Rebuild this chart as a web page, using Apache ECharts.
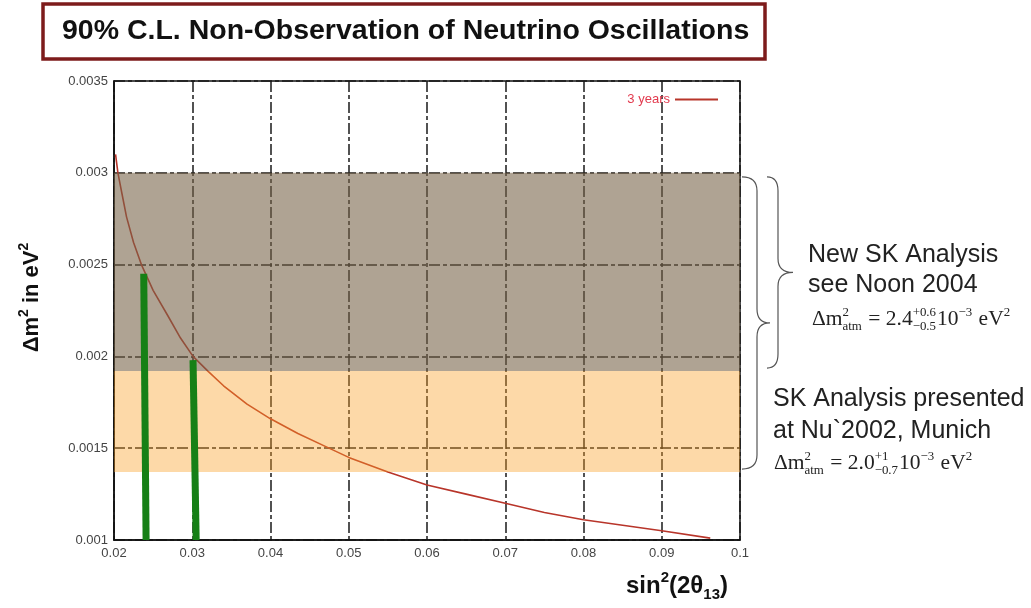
<!DOCTYPE html>
<html><head><meta charset="utf-8">
<script src="https://cdn.jsdelivr.net/npm/echarts@6/dist/echarts.min.js"></script>
<style>html,body{margin:0;padding:0;background:#fff}#c{width:1031px;height:608px}</style>
</head><body><div id="c"></div>
<script>
// ---- data ----
const titleText = '90% C.L. Non-Observation of Neutrino Oscillations';
const xAxisRange = [0.02, 0.1];
const xInterval = 0.01;
const yAxisRange = [0.001, 0.0035];
const yInterval = 0.0005;
const curveName = '3 years';
const curveX = [0.0202, 0.0205, 0.0210, 0.0216, 0.0225, 0.0235, 0.0250, 0.0269, 0.0285, 0.0301, 0.0320, 0.0340, 0.0370, 0.0400, 0.0435, 0.0470, 0.0500, 0.0550, 0.0600, 0.0650, 0.0700, 0.0750, 0.0800, 0.0850, 0.0900, 0.0962];
const curveY = [0.00310, 0.00300, 0.00289, 0.00276, 0.00262, 0.00250, 0.00236, 0.00222, 0.00210, 0.00200, 0.00192, 0.00184, 0.00174, 0.00166, 0.00158, 0.00151, 0.00145, 0.00137, 0.00130, 0.00125, 0.00120, 0.00115, 0.00111, 0.00108, 0.00105, 0.00101];
const bar1X = [0.0241, 0.0238];
const bar1Y = [0.00100, 0.00245];
const bar2X = [0.0305, 0.0301];
const bar2Y = [0.00100, 0.00198];
const bandRanges = [[0.00137, 0.00192], [0.00192, 0.00300]];   // SK 2002 (lower part), new SK
const braceRanges = [[0.00137, 0.00300], [0.00192, 0.00300]];
const noteNew = ['New SK Analysis', 'see Noon 2004'];
const noteOld = ['SK Analysis presented', 'at Nu`2002, Munich'];
const formulaNew = [{t:'Δm'},{sup:'2',sub:'atm'},{t:' = 2.4'},{sup:'+0.6',sub:'−0.5'},{t:'10'},{sup:'−3'},{t:' eV'},{sup:'2'}];
const formulaOld = [{t:'Δm'},{sup:'2',sub:'atm'},{t:' = 2.0'},{sup:'+1',sub:'−0.7'},{t:'10'},{sup:'−3'},{t:' eV'},{sup:'2'}];

// ---- styles ----
const bandFills = ['rgba(250,160,37,0.40)', 'rgba(119,98,71,0.59)'];
const braceGeom = [[2, 17, 30], [27, 38, 53]];   // x offsets from plot right: start, body, tip
const SANS = 'Liberation Sans';
const SERIF = 'Liberation Serif';

const chart = echarts.init(document.getElementById('c'), null, {renderer:'canvas'});
const fmt = v => String(+v.toFixed(4));

// formula layout
const mctx = document.createElement('canvas').getContext('2d');
function tw(s, size){ mctx.font = size + 'px "' + SERIF + '"'; return mctx.measureText(s).width; }
function formula(x0, base, S, tokens){
  const els = []; let x = x0; const s = S * 0.6; const mid = 0.3;
  tokens.forEach(tok => {
    if (tok.t !== undefined){
      els.push({type:'text', x:x, y: base - mid*S, style:{text:tok.t, font: S + 'px "' + SERIF + '"', fill:'#222', verticalAlign:'middle', align:'left'}});
      x += tw(tok.t, S);
    } else {
      let w = 0;
      if (tok.sup){ els.push({type:'text', x:x, y: base - 0.45*S - mid*s, style:{text:tok.sup, font: s + 'px "' + SERIF + '"', fill:'#222', verticalAlign:'middle', align:'left'}}); w = Math.max(w, tw(tok.sup, s)); }
      if (tok.sub){ els.push({type:'text', x:x, y: base + 0.2*S - mid*s, style:{text:tok.sub, font: s + 'px "' + SERIF + '"', fill:'#222', verticalAlign:'middle', align:'left'}}); w = Math.max(w, tw(tok.sub, s)); }
      x += w + 1;
    }
  });
  return els;
}
function note(x, y, text){
  return {type:'text', x:x, y:y, style:{text:text, font:'25px "' + SANS + '"', fill:'#222', verticalAlign:'middle', align:'left'}};
}

const graphics = [
  note(808, 255, noteNew[0]), note(808, 285, noteNew[1]),
  ...formula(812, 326, 21.5, formulaNew),
  note(773, 399, noteOld[0]), note(773, 431, noteOld[1]),
  ...formula(774, 470, 21.5, formulaOld)
];

const option = {
  animation: false,
  backgroundColor: '#fff',
  title: {
    text: titleText, left: 43, top: 4,
    padding: [13, 16, 13, 19],
    borderColor: '#7d1b1b', borderWidth: 3.5,
    textStyle: {fontFamily: SANS, fontWeight: 'bold', fontSize: 28.5, color: '#111'}
  },
  legend: {
    data: [curveName], right: 308, top: 88, align: 'right',
    icon: 'rect', itemWidth: 43, itemHeight: 2,
    textStyle: {color: '#e23a4e', fontSize: 13, fontFamily: SANS}
  },
  grid: {left: 114, right: 291, top: 81, bottom: 68, show: true, borderColor: '#111', borderWidth: 1.5},
  xAxis: {
    type: 'value', min: xAxisRange[0], max: xAxisRange[1], interval: xInterval,
    axisLine: {show: true, lineStyle: {color: '#111', width: 1.5}},
    axisTick: {show: false},
    axisLabel: {formatter: fmt, color: '#444', fontSize: 13, fontFamily: SANS, margin: 7},
    splitLine: {show: true, lineStyle: {color: '#1a1a1a', width: 1.5, type: [11, 3, 4, 3]}},
    name: '{a|sin}{s|2}{a|(2θ}{b|13}{a|)}',
    nameLocation: 'end', nameGap: -12,
    nameTextStyle: {
      align: 'right', verticalAlign: 'top', padding: [30, 0, 0, 0],
      rich: {
        a: {fontSize: 24, fontWeight: 'bold', fontFamily: SANS, color: '#111', lineHeight: 32},
        s: {fontSize: 15, fontWeight: 'bold', fontFamily: SANS, color: '#111', lineHeight: 15, verticalAlign: 'top'},
        b: {fontSize: 15, fontWeight: 'bold', fontFamily: SANS, color: '#111', lineHeight: 15, verticalAlign: 'bottom'}
      }
    }
  },
  yAxis: {
    type: 'value', min: yAxisRange[0], max: yAxisRange[1], interval: yInterval,
    axisLine: {show: true, lineStyle: {color: '#111', width: 1.5}},
    axisTick: {show: false},
    axisLabel: {formatter: fmt, color: '#444', fontSize: 13, fontFamily: SANS, margin: 6},
    splitLine: {show: true, lineStyle: {color: '#1a1a1a', width: 1.5, type: [11, 3, 4, 3]}},
    name: '{a|Δm}{s|2}{a| in eV}{s|2}',
    nameLocation: 'middle', nameGap: 67,
    nameTextStyle: {
      padding: [0, 0, 0, 26],
      rich: {
        a: {fontSize: 22, fontWeight: 'bold', fontFamily: SANS, color: '#111', lineHeight: 30},
        s: {fontSize: 14, fontWeight: 'bold', fontFamily: SANS, color: '#111', lineHeight: 14, verticalAlign: 'top'}
      }
    }
  },
  series: [
    {
      name: curveName, type: 'line', z: 3, symbol: 'none', smooth: false,
      data: curveX.map((x, i) => [x, curveY[i]]),
      itemStyle: {color: '#b8352a'},
      lineStyle: {color: '#b8352a', width: 1.6}
    },
    {
      type: 'custom', z: 5, silent: true, clip: true,
      data: bandRanges.map(r => [xAxisRange[0], xAxisRange[1], r[0], r[1]]),
      encode: {x: [0, 1], y: [2, 3]},
      renderItem: (params, api) => {
        const p1 = api.coord([api.value(0), api.value(3)]);
        const p2 = api.coord([api.value(1), api.value(2)]);
        return {type: 'rect', shape: {x: p1[0], y: p1[1], width: p2[0] - p1[0], height: p2[1] - p1[1]},
                style: {fill: bandFills[params.dataIndex]}};
      }
    },
    {
      type: 'custom', z: 6, silent: true, clip: false,
      data: braceRanges.map(r => [xAxisRange[1], r[0], r[1]]),
      encode: {x: 0, y: [1, 2]},
      renderItem: (params, api) => {
        const top = api.coord([api.value(0), api.value(2)]);
        const bot = api.coord([api.value(0), api.value(1)]);
        const g = braceGeom[params.dataIndex];
        const x0 = top[0] + g[0], xb = top[0] + g[1], xt = top[0] + g[2];
        const yT = top[1] + 4, yB = bot[1] - 3, yM = (yT + yB) / 2, r = 14;
        const d = `M${x0},${yT} Q${xb},${yT} ${xb},${yT + r} L${xb},${yM - r} Q${xb},${yM} ${xt},${yM} ` +
                  `M${xt},${yM} Q${xb},${yM} ${xb},${yM + r} L${xb},${yB - r} Q${xb},${yB} ${x0},${yB}`;
        return {type: 'path', shape: {pathData: d}, style: {fill: 'none', stroke: '#555', lineWidth: 1.2}};
      }
    },
    {
      type: 'line', z: 10, symbol: 'none', silent: true,
      data: bar1X.map((x, i) => [x, bar1Y[i]]),
      lineStyle: {color: '#168016', width: 7, cap: 'butt'}
    },
    {
      type: 'line', z: 10, symbol: 'none', silent: true,
      data: bar2X.map((x, i) => [x, bar2Y[i]]),
      lineStyle: {color: '#168016', width: 7, cap: 'butt'}
    }
  ],
  graphic: graphics
};
chart.setOption(option);
</script></body></html>
